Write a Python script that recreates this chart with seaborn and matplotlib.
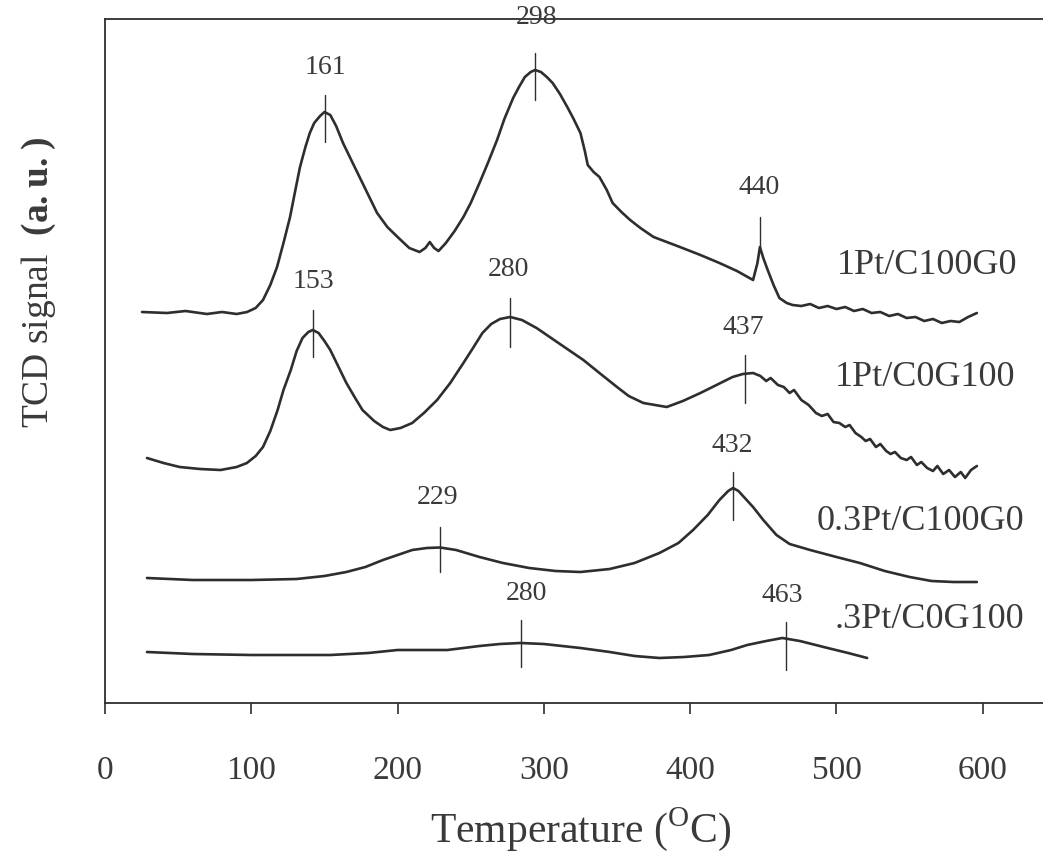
import numpy as np
import pandas as pd
import matplotlib
matplotlib.use("Agg")
import matplotlib.pyplot as plt
import seaborn as sns

# ---------------- data ----------------
# 1Pt/C100G0
t1 = [25.3, 42.4, 55.0, 69.7, 80.0, 90.0, 97.1, 103.0, 108.0, 113.0, 117.6, 122.0, 126.5, 130.0,
      133.3, 137.0, 140.0, 143.0, 147.0, 150.0, 154.0, 158.0, 162.7, 168.0, 174.0, 180.0, 186.0,
      193.0, 200.0, 208.0, 215.0, 219.0, 222.0, 225.0, 228.0, 233.0, 239.0, 245.0, 250.0, 256.0,
      262.0, 268.0, 273.0, 279.0, 283.0, 287.0, 291.0, 294.0, 298.0, 302.0, 306.0, 311.0, 316.0,
      320.0, 325.0, 328.0, 330.0, 334.0, 338.0, 343.0, 347.0, 353.0, 359.0, 366.0, 375.0, 384.0,
      393.0, 407.0, 420.0, 432.0, 443.0, 446.0, 447.7, 450.0, 453.0, 457.0, 461.0, 466.0, 470.0,
      476.0, 482.0, 488.0, 494.0, 500.0, 506.0, 512.0, 518.0, 524.0, 530.0, 536.0, 542.0, 548.0,
      554.0, 560.0, 566.0, 572.0, 578.0, 584.0, 590.0, 596.0]
s1 = [391, 390, 392, 389, 391, 389, 391, 395, 403, 418, 436, 460, 486, 512,
      536, 556, 570, 580, 587, 591, 588, 577, 560, 544, 526, 508, 490,
      476, 466, 455, 451, 455, 461, 455, 452, 460, 472, 486, 500, 520,
      541, 563, 584, 605, 616, 626, 631, 633, 631, 626, 620, 609, 596,
      585, 570, 552, 538, 531, 526, 513, 500, 491, 483, 475, 466, 461,
      456, 448, 440, 432, 423, 440, 456, 445, 433, 418, 405, 400, 398,
      397, 399, 395, 397, 394, 396, 392, 394, 390, 391, 387, 389, 385,
      386, 382, 384, 380, 382, 381, 386, 390]

# 1Pt/C0G100
t2 = [28.7, 40.0, 51.0, 65.0, 79.0, 90.0, 97.0, 103.0, 108.0, 113.0, 118.0, 122.0, 127.0, 131.0,
      135.0, 139.0, 142.0, 146.0, 150.0, 154.0, 159.0, 165.0, 171.0, 176.0, 184.0, 190.0, 195.0,
      202.0, 210.0, 218.0, 227.0, 236.0, 245.0, 252.0, 258.0, 264.0, 270.0, 277.0, 285.0, 295.0,
      304.0, 315.0, 327.0, 338.0, 350.0, 358.0, 368.0, 376.0, 384.0, 395.0, 407.0, 418.0, 429.0,
      436.0, 443.0, 448.0, 452.0, 455.0, 460.0, 464.0, 468.0, 471.0, 476.0, 481.0, 486.0, 490.0,
      494.0, 498.0, 502.0, 506.0, 509.0, 513.0, 517.0, 520.0, 523.0, 527.0, 530.0, 534.0, 537.0,
      540.0, 544.0, 548.0, 551.0, 555.0, 558.0, 562.0, 566.0, 569.0, 573.0, 577.0, 581.0, 585.0,
      588.0, 592.0, 596.0]
s2 = [245, 240, 236, 234, 233, 236, 240, 247, 256, 272, 293, 313, 333, 352,
      365, 371, 373, 370, 362, 353, 338, 320, 305, 293, 282, 276, 273,
      275, 280, 290, 303, 320, 340, 356, 370, 379, 384, 386, 383, 375,
      366, 355, 343, 330, 316, 307, 300, 298, 296, 302, 310, 318, 326,
      329, 330, 327, 322, 325, 318, 316, 310, 313, 303, 298, 290, 287,
      289, 281, 280, 276, 278, 270, 266, 262, 264, 256, 259, 252, 249,
      251, 245, 243, 246, 238, 241, 235, 232, 237, 229, 233, 226, 231,
      225, 233, 237]

# 0.3Pt/C100G0
t3 = [28.7, 60.0, 100.0, 131.0, 150.0, 165.0, 178.0, 190.0, 200.0, 210.0, 220.0, 229.0, 240.0,
      256.0, 272.0, 290.0, 308.0, 325.0, 345.0, 362.0, 379.0, 392.0, 402.0, 412.0, 420.0, 426.0,
      429.3, 433.0, 438.0, 443.0, 450.0, 459.0, 468.0, 482.0, 500.0, 516.0, 533.0, 550.0, 565.0,
      580.0, 596.0]
s3 = [125, 123, 123, 124, 127, 131, 136, 143, 148, 153, 155, 155.5, 153,
      146, 140, 135, 132, 131, 134, 140, 150, 160, 173, 188, 203, 212,
      215, 212, 204, 196, 183, 168, 159, 153, 146, 140, 132, 126, 122,
      121, 121]

# .3Pt/C0G100
t4 = [28.7, 60.0, 100.0, 154.0, 180.0, 200.0, 220.0, 234.0, 256.0, 270.0, 284.0, 300.0, 325.0,
      345.0, 362.0, 379.0, 396.0, 413.0, 428.0, 439.0, 452.0, 463.0, 475.0, 494.0, 508.0, 521.0]
s4 = [51, 49, 48, 48, 50, 53, 53, 53, 57, 59, 60, 59, 55,
      51, 47, 45, 46, 48, 53, 58, 62, 65, 62, 55, 50, 45]

series_names = ["1Pt/C100G0", "1Pt/C0G100", "0.3Pt/C100G0", ".3Pt/C0G100"]

# peak markers: position (°C), marker bottom/top (a.u.), label text, label position
peak_x = [150.4, 293.9, 447.7, 142.2, 276.8, 437.5, 229.0, 429.3, 284.3, 465.5]
peak_lo = [561, 603, 456, 346, 356, 300, 131, 183, 36, 33]
peak_hi = [608, 650, 486, 393, 405, 348, 176, 231, 83, 81]
peak_text = ["161", "298", "440", "153", "280", "437", "229", "432", "280", "463"]
peak_tx = [150.4, 295.0, 447.0, 142.2, 275.5, 436.0, 227.6, 429.0, 288.0, 463.0]
peak_ty = [636, 686, 516, 421, 433, 376, 206, 258, 110, 107]

name_tx = [500.3, 499.0, 486.7, 499.0]
name_ty = [438, 325, 181, 83]

x_ticks = [0, 100, 200, 300, 400, 500, 600]

# ---------------- style ----------------
sns.set_style("white")
plt.rcParams["font.family"] = ["Liberation Serif", "DejaVu Serif"]
plt.rcParams["mathtext.fontset"] = "custom"
plt.rcParams["mathtext.rm"] = "Liberation Serif"
plt.rcParams["mathtext.bf"] = "Liberation Serif:bold"

line_c = "#2e2e2e"
text_c = "#3a3a3a"

fig = plt.figure(figsize=(10.43, 8.55), dpi=100)
ax = fig.add_axes([105 / 1043, (855 - 703) / 855, 938 / 1043, 684 / 855])

frames = []
for name, t, s in zip(series_names, [t1, t2, t3, t4], [s1, s2, s3, s4]):
    frames.append(pd.DataFrame({"T": t, "S": s, "name": name}))
df = pd.concat(frames, ignore_index=True)

for name in series_names:
    d = df[df["name"] == name]
    sns.lineplot(data=d, x="T", y="S", ax=ax, color=line_c, lw=1.9, sort=False,
                 estimator=None, legend=False)

for px, lo, hi in zip(peak_x, peak_lo, peak_hi):
    ax.plot([px, px], [lo, hi], color=line_c, lw=1.0)

for txt, tx, ty in zip(peak_text, peak_tx, peak_ty):
    ax.text(tx, ty, txt, ha="center", va="center", fontsize=20, color=text_c,
            clip_on=False, zorder=5)

for name, tx, ty in zip(series_names, name_tx, name_ty):
    ax.text(tx, ty, name, ha="left", va="center", fontsize=26, color=text_c)

ax.set_xlim(0, 641.2)
ax.set_ylim(0, 684)
ax.set_xticks(x_ticks)
ax.set_xticklabels([str(v) for v in x_ticks])
ax.set_yticks([])
ax.tick_params(axis="x", direction="out", length=8, width=1.2, colors=line_c,
               labelsize=24, labelcolor=text_c, pad=30, bottom=True)

for side in ["left", "bottom", "top"]:
    ax.spines[side].set_color(line_c)
    ax.spines[side].set_linewidth(1.3)
ax.spines["right"].set_visible(False)

ax.set_xlabel(r"Temperature ($^{\rm O}$C)", fontsize=30, color=text_c)
ax.xaxis.set_label_coords(0.507, -0.15)
ax.set_ylabel(r"TCD signal  $\mathbf{(a.u.)}$", fontsize=27, color=text_c)
ax.yaxis.set_label_coords(-0.05, 0.615)

fig.savefig("out.png", dpi=100, facecolor="white")
